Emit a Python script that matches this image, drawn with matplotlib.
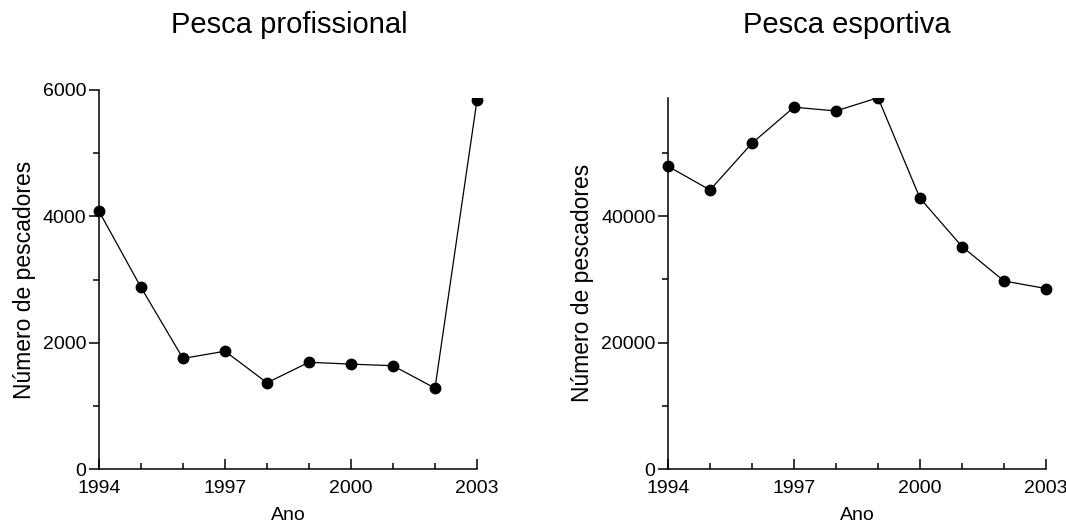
import numpy as np
import matplotlib
matplotlib.use("Agg")
import matplotlib.pyplot as plt
from matplotlib.patches import Rectangle
from matplotlib.ticker import MultipleLocator

plt.rcParams['font.family'] = ['Liberation Sans', 'DejaVu Sans']

years = [1994, 1995, 1996, 1997, 1998, 1999, 2000, 2001, 2002, 2003]
profissional = [4080, 2875, 1750, 1865, 1365, 1690, 1660, 1635, 1280, 5840]
esportiva = [47900, 44150, 51550, 57250, 56650, 58750, 42850, 35200, 29750, 28550]

year_ticks = [1994, 1997, 2000, 2003]


def style_axes(ax, major, minor, top, clip_top):
    ax.set_xlim(1994, 2003)
    ax.set_ylim(0, top)
    for s in ["top", "right"]:
        ax.spines[s].set_visible(False)
    for s in ["left", "bottom"]:
        ax.spines[s].set_linewidth(1.1)
    ax.set_xticks(year_ticks)
    ax.xaxis.set_minor_locator(MultipleLocator(1))
    ax.yaxis.set_major_locator(MultipleLocator(major))
    ax.yaxis.set_minor_locator(MultipleLocator(minor))
    ax.tick_params(axis="x", which="major", direction="in", length=7.5, width=1.1, pad=8, labelsize=14)
    ax.tick_params(axis="x", which="minor", direction="in", length=4.5, width=1.1)
    ax.tick_params(axis="y", which="major", direction="out", length=7.5, width=1.1, pad=1.5, labelsize=14)
    ax.tick_params(axis="y", which="minor", direction="out", length=4.5, width=1.1)
    ax.set_xlabel("Ano", fontsize=14, labelpad=7)
    ax.set_ylabel("Número de pescadores", fontsize=16.5, labelpad=5)
    # data is clipped only at the top, markers at the sides stay whole
    return Rectangle((-0.1, -0.1), 1.2, clip_top + 0.1, transform=ax.transAxes,
                     facecolor="none", edgecolor="none")


fig = plt.figure(figsize=(10.66, 5.25), dpi=100)
ax1 = fig.add_axes([99 / 1066, 56 / 525, 378 / 1066, 379 / 525])
ax2 = fig.add_axes([668 / 1066, 56 / 525, 378 / 1066, 371.3 / 525])

for ax, vals, major, minor, top, clip_top, title, tx in [
    (ax1, profissional, 2000, 1000, 6000, 0.98, "Pesca profissional", 289),
    (ax2, esportiva, 20000, 10000, 58750, 1.0, "Pesca esportiva", 847),
]:
    clip = style_axes(ax, major, minor, top, clip_top)
    line, = ax.plot(years, vals, color="black", lw=0.9, marker="o", ms=7.5)
    line.set_clip_path(clip)
    fig.text(tx / 1066, 1 - 33 / 525, title, fontsize=21, ha="center", va="baseline")

fig.savefig("out.png", dpi=100)
